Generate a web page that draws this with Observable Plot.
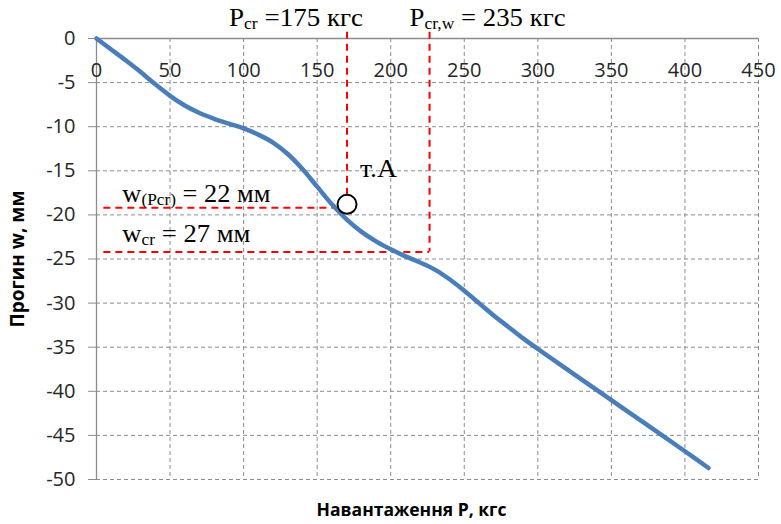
<!DOCTYPE html>
<html><head><meta charset="utf-8">
<script src="https://cdn.jsdelivr.net/npm/d3@7"></script>
<script src="https://cdn.jsdelivr.net/npm/@observablehq/plot@0.6"></script>
<style>body{margin:0;background:#fff;} #chart svg{display:block;}</style>
</head><body><div id="chart"></div>
<script>
// Load P (kgf) and deflection w (mm)
const loadP  = [0, 10, 20, 30, 40, 50, 60, 70, 80, 90, 100, 110, 120, 130, 140, 150, 160, 170, 180, 190, 200, 210, 220, 230, 240, 250, 260, 270, 280, 290, 300, 325, 350, 375, 400, 416];
const deflW  = [0, -1.25, -2.5, -3.8, -5.2, -6.5, -7.6, -8.45, -9.1, -9.65, -10.2, -10.9, -11.8, -13.1, -14.8, -16.8, -18.8, -20.5, -21.9, -23.0, -23.9, -24.7, -25.4, -26.2, -27.3, -28.6, -30.0, -31.4, -32.7, -34.0, -35.2, -38.1, -41.0, -43.9, -46.8, -48.7];
const xTicks = [0, 50, 100, 150, 200, 250, 300, 350, 400, 450];
const yTicks = [0, -5, -10, -15, -20, -25, -30, -35, -40, -45, -50];

// Critical markers as drawn on the reference
const critP    = [170.3, 226.4];     // vertical red lines (P)
const critW    = [-19.2, -24.2];     // horizontal red lines (w)
const critWEnd = [162.5, 226.4];     // where horizontal lines end (P)
const critPEnd = [-17.7, -24.2];     // where vertical lines end (w)
const lineStartP = 5;
const lineTopW = 0.7;
const pointA = [{P: 170.3, w: -18.8}];

const labelPcr  = "P{cr} =175 кгс";
const labelPcrw = "P{cr,w} = 235 кгс";
const labelA    = "т.А";
const labelWP   = "w{(Pcr)} = 22 мм";
const labelWcr  = "w{cr} = 27 мм";
const xTitle = "Навантаження P, кгс";
const yTitle = "Прогин w, мм";

const curve = loadP.map((p, i) => ({P: p, w: deflW[i]}));
const vLines = critP.map((p, i) => ({P: p, w1: lineTopW, w2: critPEnd[i]}));
const hLines = critW.map((w, i) => ({w, p1: lineStartP, p2: critWEnd[i]}));

const gridColor = "#8c8c8c";
const axisColor = "#8c8c8c";
const textColor = "#262626";
const serif = "'Liberation Serif', 'Times New Roman', serif";
const sans = "'Open Sans', 'Liberation Sans', sans-serif";

// annotation style: target widths for horizontal stretch like the reference
const ann = (w) => ({textAnchor: "start", lineAnchor: "bottom", fontSize: 26, fontFamily: serif, fill: "#000", ariaDescription: String(w)});

const chart = Plot.plot({
  width: 781,
  height: 524,
  marginLeft: 96,
  marginRight: 23,
  marginTop: 38,
  marginBottom: 45,
  style: {fontFamily: sans, background: "#fff", overflow: "visible"},
  x: {domain: [0, 450], axis: null},
  y: {domain: [-50, 0], axis: null},
  marks: [
    Plot.gridX(xTicks.slice(1), {stroke: gridColor, strokeOpacity: 1, strokeDasharray: "4,3", strokeWidth: 1}),
    Plot.gridY(yTicks.slice(1), {stroke: gridColor, strokeOpacity: 1, strokeDasharray: "4,3", strokeWidth: 1}),
    Plot.ruleX([0], {stroke: axisColor, strokeWidth: 1.3}),
    Plot.ruleY([0], {stroke: axisColor, strokeWidth: 1.3}),
    Plot.axisY({ticks: yTicks, tickSize: 8, tickPadding: 13, tickFormat: d => String(d), fontSize: 20, label: null, stroke: axisColor, fill: textColor}),
    Plot.text(xTicks, {x: d => d, frameAnchor: "top", dy: 32, lineAnchor: "middle", text: d => String(d), fontSize: 20, fill: textColor}),
    // red dashed critical lines
    Plot.ruleX(vLines, {x: "P", y1: "w1", y2: "w2", stroke: "#ff0000", strokeWidth: 2, strokeDasharray: "7,5"}),
    Plot.ruleY(hLines, {y: "w", x1: "p1", x2: "p2", stroke: "#ff0000", strokeWidth: 2, strokeDasharray: "7,5"}),
    // curve
    Plot.line(curve, {x: "P", y: "w", stroke: "#4A7EBB", strokeWidth: 4.5, curve: "catmull-rom", strokeLinecap: "round"}),
    // point A
    Plot.dot(pointA, {x: "P", y: "w", r: 9.5, stroke: "#000", strokeWidth: 2, fill: "#fff"}),
    // annotations
    Plot.text([labelPcr],  {x: critP[0], frameAnchor: "top", dy: -13, dx: -118, text: d => d, ...ann(134)}),
    Plot.text([labelPcrw], {x: critP[1], frameAnchor: "top", dy: -13, dx: -20, text: d => d, ...ann(156)}),
    Plot.text(pointA, {x: "P", y: "w", dx: 13, dy: -27, text: () => labelA, ...ann(37)}),
    Plot.text([labelWP],  {x: lineStartP, y: critW[0], dx: 18.5, dy: -5.5, text: d => d, ...ann(148)}),
    Plot.text([labelWcr], {x: lineStartP, y: critW[1], dx: 18.5, dy: -10, text: d => d, ...ann(128)}),
    // axis titles
    Plot.text([xTitle], {frameAnchor: "bottom", dy: 31, dx: -16, lineAnchor: "middle", textAnchor: "middle", text: d => d, fontSize: 17.5, fontWeight: "bold", fill: "#000"}),
    Plot.text([yTitle], {frameAnchor: "left", dx: -79, rotate: -90, textAnchor: "middle", lineAnchor: "middle", text: d => d, fontSize: 19, fontWeight: "bold", fill: "#000"})
  ]
});

// Render "{...}" segments as subscripts; stretch annotation text to reference widths
chart.querySelectorAll("[aria-description]").forEach(g => {
  const w = g.getAttribute("aria-description");
  g.querySelectorAll("text").forEach(t => {
    const s = t.textContent;
    if (s.includes("{")) {
      const parts = s.split(/(\{[^}]*\})/).filter(p => p.length);
      t.textContent = "";
      let lowered = false;
      parts.forEach(p => {
        const ts = document.createElementNS("http://www.w3.org/2000/svg", "tspan");
        if (p.startsWith("{")) {
          ts.textContent = p.slice(1, -1);
          ts.setAttribute("font-size", "17");
          ts.setAttribute("dy", "3");
          lowered = true;
        } else {
          ts.textContent = p;
          if (lowered) { ts.setAttribute("dy", "-3"); lowered = false; }
        }
        t.appendChild(ts);
      });
    }
    t.setAttribute("textLength", w);
    t.setAttribute("lengthAdjust", "spacingAndGlyphs");
  });
  g.removeAttribute("aria-description");
});

document.getElementById("chart").appendChild(chart);
</script>
</body></html>
